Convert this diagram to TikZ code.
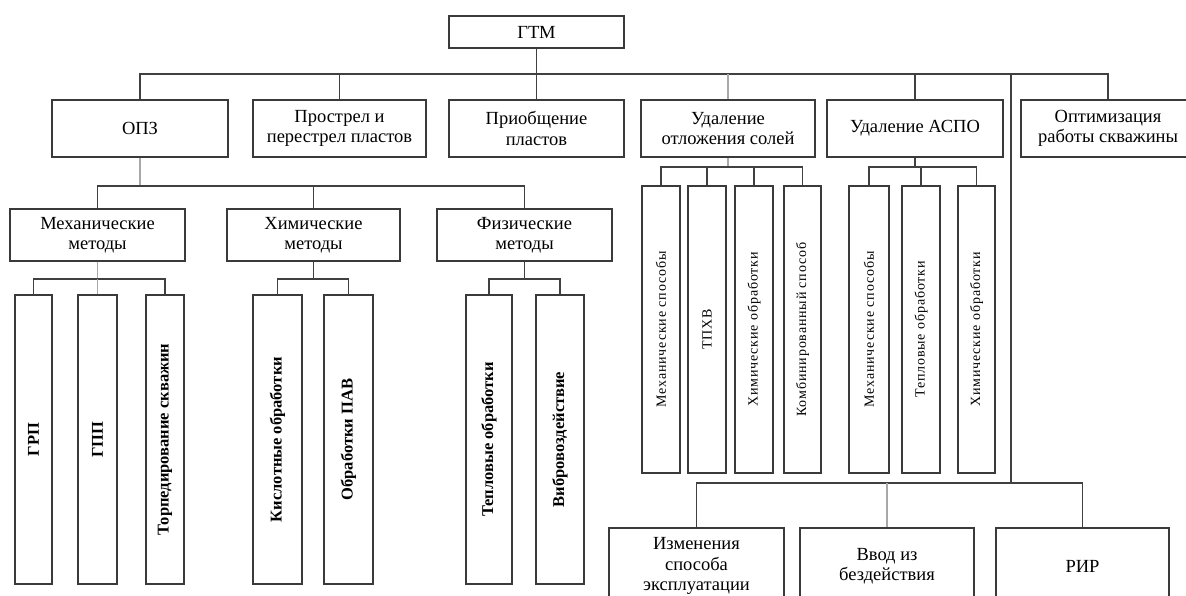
\documentclass[tikz,border=0pt]{standalone}
\usepackage{fontspec}
\setmainfont{Liberation Serif}
\newfontfamily\spacedfont[LetterSpace=6]{Liberation Serif}
\definecolor{boxc}{HTML}{3A3A3A}
\definecolor{linec}{HTML}{404040}
\definecolor{lightc}{HTML}{A8A8A8}
\begin{document}
\begin{tikzpicture}[x=1pt,y=-1pt,
  box/.style={draw=boxc, line width=1.2pt, fill=white, inner sep=2pt, align=center,
    font=\fontsize{18.5}{20.5}\selectfont},
  vbox/.style={draw=boxc, line width=1.2pt, fill=white, inner sep=0pt,
    minimum height=289pt, font=\bfseries\fontsize{16.5}{19}\selectfont},
  rbox/.style={draw=boxc, line width=1.2pt, fill=white, inner sep=0pt,
    minimum height=287pt, font=\spacedfont\fontsize{14}{16}\selectfont},
  conn/.style={draw=linec, line width=1.1pt},
  connl/.style={draw=lightc, line width=1.1pt}]
\useasboundingbox (0,0) rectangle (1186,595);
\clip (0,0) rectangle (1186,595);
\fill[white] (0,0) rectangle (1186,595);

% top
\node[box, minimum width=175pt, minimum height=32pt] (gtm) at (536.5,32) {ГТМ};

% level 1
\node[box, minimum width=176pt, minimum height=57pt] (opz)  at (140,128.5) {ОПЗ};
\node[box, minimum width=173pt, minimum height=57pt] (pros) at (339.5,128.5) {Прострел и\\перестрел пластов};
\node[box, minimum width=175pt, minimum height=57pt] (prio) at (536.5,128.5) {Приобщение\\пластов};
\node[box, minimum width=174pt, minimum height=57pt] (sol)  at (728,128.5) {Удаление\\отложения солей};
\node[box, minimum width=176pt, minimum height=57pt] (aspo) at (915,128.5) {Удаление АСПО};
\node[box, minimum width=174pt, minimum height=57pt] (opt)  at (1108,128.5) {Оптимизация\\работы скважины};

% level 2 under ОПЗ
\node[box, minimum width=175pt, minimum height=52pt] (mech) at (97.5,235) {Механические\\методы};
\node[box, minimum width=173pt, minimum height=52pt] (him)  at (313.5,235) {Химические\\методы};
\node[box, minimum width=175pt, minimum height=52pt] (phys) at (524.5,235) {Физические\\методы};

% vertical leaves, left
\node[vbox, minimum width=37pt] (grp)  at (33.5,439.5) {\rotatebox{90}{ГРП}};
\node[vbox, minimum width=39pt] (gpp)  at (97.5,439.5) {\rotatebox{90}{ГПП}};
\node[vbox, minimum width=38pt] (torp) at (165,439.5)  {\rotatebox{90}{Торпедирование скважин}};
\node[vbox, minimum width=49pt] (kisl) at (277.5,439.5) {\rotatebox{90}{Кислотные обработки}};
\node[vbox, minimum width=49pt] (pav)  at (348.5,439.5) {\rotatebox{90}{Обработки ПАВ}};
\node[vbox, minimum width=46pt] (tepl) at (489,439.5)   {\rotatebox{90}{Тепловые обработки}};
\node[vbox, minimum width=48pt] (vibr) at (560,439.5)   {\rotatebox{90}{Вибровоздействие}};

% vertical leaves, right
\node[rbox, minimum width=38pt] (s1) at (661,329.5)   {\rotatebox{90}{Механические способы}};
\node[rbox, minimum width=38pt] (s2) at (707,329.5)   {\rotatebox{90}{ТПХВ}};
\node[rbox, minimum width=38pt] (s3) at (754,329.5)   {\rotatebox{90}{Химические обработки}};
\node[rbox, minimum width=37pt] (s4) at (802.5,329.5) {\rotatebox{90}{Комбинированный способ}};
\node[rbox, minimum width=40pt] (a1) at (869,329.5)   {\rotatebox{90}{Механические способы}};
\node[rbox, minimum width=38pt] (a2) at (921,329.5)   {\rotatebox{90}{Тепловые обработки}};
\node[rbox, minimum width=37pt] (a3) at (976.5,329.5) {\rotatebox{90}{Химические обработки}};

% bottom boxes
\node[box, minimum width=175pt, minimum height=76pt] (izm)  at (696.5,566) {Изменения\\способа\\эксплуатации};
\node[box, minimum width=174pt, minimum height=76pt] (vvod) at (887,566)   {Ввод из\\бездействия};
\node[box, minimum width=173pt, minimum height=76pt] (rir)  at (1082.5,566) {РИР};

% connectors: top bus
\coordinate (bus1) at (537,74);
\coordinate (bus3) at (1011,483);
\draw[conn] (gtm.south) -- (gtm.south |- bus1);
\draw[conn] (opz.north) -- (opz.north |- bus1) -- (opt.north |- bus1) -- (opt.north);
\draw[conn] (pros.north) -- (pros.north |- bus1);
\draw[conn] (prio.north) -- (prio.north |- bus1);
\draw[connl] (sol.north) -- (sol.north |- bus1);
\draw[conn] (aspo.north) -- (aspo.north |- bus1);
\draw[conn] (bus3 |- bus1) -- (bus3);

% bottom bus
\draw[conn] (izm.north) -- (izm.north |- bus3) -- (rir.north |- bus3) -- (rir.north);
\draw[connl] (vvod.north) -- (vvod.north |- bus3);

% ОПЗ children
\coordinate (bus2) at (140,186);
\draw[connl] (opz.south) -- (opz.south |- bus2);
\draw[conn] (mech.north) -- (mech.north |- bus2) -- (phys.north |- bus2) -- (phys.north);
\draw[conn] (him.north) -- (him.north |- bus2);

% mechanical
\coordinate (bm) at (97,279);
\draw[connl] (mech.south) -- (mech.south |- bm);
\draw[conn] (grp.north) -- (grp.north |- bm) -- (torp.north |- bm) -- (torp.north);
\draw[connl] (gpp.north) -- (gpp.north |- bm);

% chemical
\draw[conn] (him.south) -- (him.south |- bm);
\draw[conn] (kisl.north) -- (kisl.north |- bm) -- (pav.north |- bm) -- (pav.north);

% physical
\draw[conn] (phys.south) -- (phys.south |- bm);
\draw[conn] (tepl.north) -- (tepl.north |- bm) -- (vibr.north |- bm) -- (vibr.north);

% salts
\coordinate (bs) at (728,167);
\draw[connl] (sol.south) -- (sol.south |- bs);
\draw[conn] (s1.north) -- (s1.north |- bs) -- (s4.north |- bs) -- (s4.north);
\draw[conn] (s2.north) -- (s2.north |- bs);
\draw[conn] (s3.north) -- (s3.north |- bs);

% АСПО
\draw[conn] (aspo.south) -- (aspo.south |- bs);
\draw[conn] (a1.north) -- (a1.north |- bs) -- (a3.north |- bs) -- (a3.north);
\draw[conn] (a2.north) -- (a2.north |- bs);
\end{tikzpicture}
\end{document}
